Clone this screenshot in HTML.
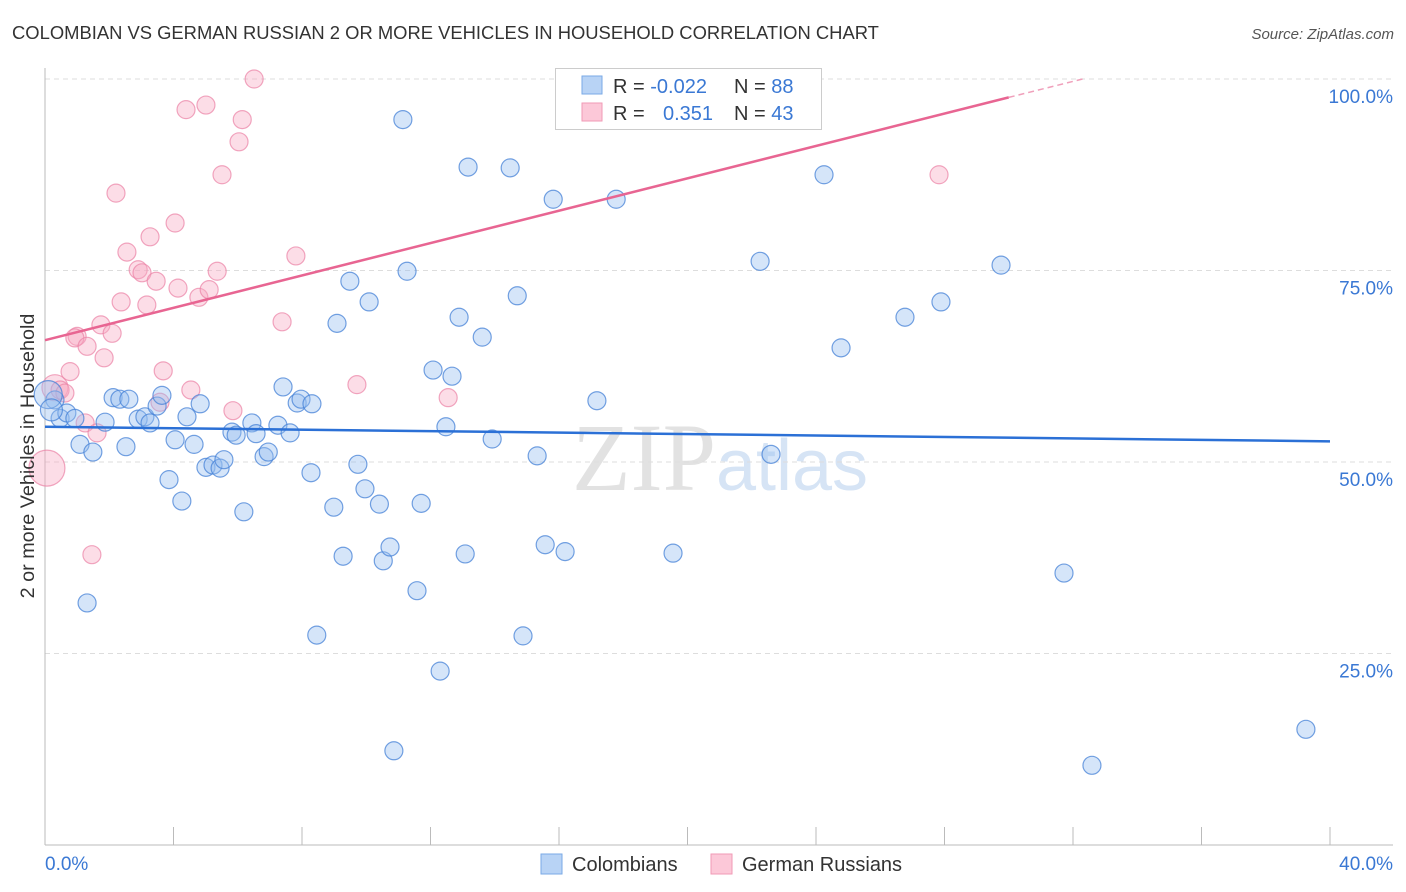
<!DOCTYPE html>
<html><head><meta charset="utf-8"><style>
body{margin:0;background:#fff;width:1406px;height:892px;overflow:hidden;font-family:"Liberation Sans",sans-serif}
svg{position:absolute;left:0;top:0}
</style></head><body>
<svg width="1406" height="892" xmlns="http://www.w3.org/2000/svg" id="chart">
<text x="12" y="39" font-size="18.4" fill="#333">COLOMBIAN VS GERMAN RUSSIAN 2 OR MORE VEHICLES IN HOUSEHOLD CORRELATION CHART</text>
<text x="1394" y="39" font-size="15" fill="#555" font-style="italic" text-anchor="end">Source: ZipAtlas.com</text>
<text x="720" y="490" font-size="96" fill="#e2e2e2" text-anchor="middle" font-family="Liberation Serif,serif">ZIP<tspan fill="#d6e4f5" font-family="Liberation Sans,sans-serif" font-size="72">atlas</tspan></text>
<g id="grid"></g><g id="axes"></g><g id="pts"></g><g id="lines"></g>
<text transform="translate(34,456) rotate(-90)" font-size="19.8" fill="#333" text-anchor="middle">2 or more Vehicles in Household</text>
<g>
<rect x="555.5" y="68.5" width="266" height="61" fill="#fff" stroke="#ccc"/>
<rect x="582" y="76" width="20" height="18" fill="#b8d3f5" stroke="#7aaae6"/>
<rect x="582" y="103" width="20" height="18" fill="#fcc8d8" stroke="#f09ab6"/>
<text x="613" y="93" font-size="20" fill="#333">R = <tspan fill="#3a78d4">-0.022</tspan></text>
<text x="734" y="93" font-size="20" fill="#333">N = <tspan fill="#3a78d4">88</tspan></text>
<text x="613" y="120" font-size="20" fill="#333">R = </text>
<text x="663" y="120" font-size="20" fill="#3a78d4">0.351</text>
<text x="734" y="120" font-size="20" fill="#333">N = <tspan fill="#3a78d4">43</tspan></text>
</g>
<g>
<rect x="541" y="854" width="21" height="20" fill="#b8d3f5" stroke="#7aaae6"/>
<text x="572" y="871" font-size="20" fill="#333">Colombians</text>
<rect x="711" y="854" width="21" height="20" fill="#fcc8d8" stroke="#f09ab6"/>
<text x="742" y="871" font-size="20" fill="#333">German Russians</text>
</g>
</svg>
<script>
const blueX=[0.31,0.47,0.68,0.93,1.09,1.31,1.49,1.87,2.12,2.33,2.52,2.61,2.90,3.11,3.27,3.49,3.64,3.86,4.05,4.26,4.42,4.64,4.83,5.01,5.23,5.45,5.57,5.82,5.95,6.19,6.44,6.57,6.82,6.95,7.25,7.41,7.63,7.85,7.97,8.28,8.31,8.46,8.99,9.09,9.28,9.49,9.74,9.96,10.09,10.41,10.53,10.74,10.86,11.14,11.27,11.58,11.71,12.08,12.30,12.48,12.67,12.89,13.08,13.17,13.61,13.92,14.48,14.70,14.88,15.32,15.57,15.82,16.19,17.18,17.78,19.55,22.26,22.60,24.25,24.78,26.77,27.89,29.76,31.72,32.59,39.25,0.1,0.2];
const blueY=[58.1,55.7,56.4,55.7,52.3,31.6,51.3,55.2,58.4,58.2,52.0,58.2,55.6,55.9,55.1,57.3,58.7,47.7,52.9,44.9,55.9,52.3,57.6,49.3,49.6,49.2,50.3,53.9,53.5,43.5,55.1,53.7,50.7,51.3,54.8,59.8,53.8,57.7,58.2,48.6,57.6,27.4,44.1,68.1,37.7,73.6,49.7,46.5,70.9,44.5,37.1,38.9,12.3,94.7,74.9,33.2,44.6,62.0,22.7,54.6,61.2,68.9,38.0,88.5,66.3,53.0,88.4,71.7,27.3,50.8,39.2,84.3,38.3,58.0,84.3,38.1,76.2,51.0,87.5,64.9,68.9,70.9,75.7,35.5,10.4,15.1,58.8,56.8];
const blueR=[9,9,9,9,9,9,9,9,9,9,9,9,9,9,9,9,9,9,9,9,9,9,9,9,9,9,9,9,9,9,9,9,9,9,9,9,9,9,9,9,9,9,9,9,9,9,9,9,9,9,9,9,9,9,9,9,9,9,9,9,9,9,9,9,9,9,9,9,9,9,9,9,9,9,9,9,9,9,9,9,9,9,9,9,9,9,14,11];
const pinkX=[0.06,0.31,0.47,0.62,0.78,1.00,0.93,1.25,1.31,1.46,1.62,1.74,1.84,2.09,2.21,2.37,2.55,2.90,3.02,3.17,3.27,3.46,3.58,3.68,4.05,4.14,4.39,4.54,4.79,5.01,5.11,5.36,5.51,5.85,6.04,6.14,6.51,7.38,7.81,9.71,12.55,27.83];
const pinkY=[49.2,59.7,59.4,59.0,61.8,66.4,66.2,55.1,65.1,37.9,53.8,67.9,63.6,66.8,85.1,70.9,77.4,75.1,74.7,70.5,79.4,73.6,57.8,61.9,81.2,72.7,96.0,59.4,71.5,96.6,72.5,74.9,87.5,56.7,91.8,94.7,100.0,68.3,76.9,60.1,58.4,87.5];
const pinkR=[18,13,9,9,9,9,9,9,9,9,9,9,9,9,9,9,9,9,9,9,9,9,9,9,9,9,9,9,9,9,9,9,9,9,9,9,9,9,9,9,9,9];
const yTicks=[25,50,75,100];
const yTickLabels=["25.0%","50.0%","75.0%","100.0%"];
const xTicks=[0,4,8,12,16,20,24,28,32,36,40];
const blueTrend=[[0,54.6],[40,52.7]];
const pinkTrend=[[0,65.9],[30,97.6],[32.3,100]];
const NS="http://www.w3.org/2000/svg";
const sx=v=>45+v/40*1285, sy=v=>845-v/100*766;
function mk(t,a,p){const e=document.createElementNS(NS,t);for(const k in a)e.setAttribute(k,a[k]);document.getElementById(p).appendChild(e);return e;}
yTicks.forEach((t,i)=>{
 const l=mk('line',{x1:45,x2:1393,y1:sy(t),y2:sy(t),stroke:'#ddd','stroke-dasharray':'5,4'},'grid');
 
 
 const tx=mk('text',{x:1393,y:sy(t)+24,'font-size':19,fill:'#3a78d4','text-anchor':'end'},'grid');
 tx.textContent=yTickLabels[i];
 
 
});
mk('line',{x1:45,x2:45,y1:68,y2:845,stroke:'#bbb'},'axes');
mk('line',{x1:45,x2:1393,y1:845,y2:845,stroke:'#bbb'},'axes');
xTicks.forEach(t=>{const l=mk('line',{x1:sx(t),x2:sx(t),y1:827,y2:845,stroke:'#bbb'},'axes');
 
 });
const x0=mk('text',{x:45,y:870,'font-size':19,fill:'#3a78d4'},'axes');x0.textContent='0.0%';


const x1=mk('text',{x:1393,y:870,'font-size':19,fill:'#3a78d4','text-anchor':'end'},'axes');x1.textContent='40.0%';


pinkX.forEach((v,i)=>{const c=mk('circle',{cx:sx(v),cy:sy(pinkY[i]),r:pinkR[i],fill:'rgba(248,170,195,0.4)',stroke:'rgba(235,130,165,0.7)','stroke-width':1.2},'pts');
 
 });
blueX.forEach((v,i)=>{const c=mk('circle',{cx:sx(v),cy:sy(blueY[i]),r:blueR[i],fill:'rgba(150,190,240,0.4)',stroke:'rgba(70,130,215,0.75)','stroke-width':1.2},'pts');
 
 });
const bl=mk('line',{x1:sx(blueTrend[0][0]),y1:sy(blueTrend[0][1]),x2:sx(blueTrend[1][0]),y2:sy(blueTrend[1][1]),stroke:'#2b70d6','stroke-width':2.5},'lines');


const pl=mk('line',{x1:sx(pinkTrend[0][0]),y1:sy(pinkTrend[0][1]),x2:sx(pinkTrend[1][0]),y2:sy(pinkTrend[1][1]),stroke:'#e86592','stroke-width':2.5},'lines');


const pd=mk('line',{x1:sx(pinkTrend[1][0]),y1:sy(pinkTrend[1][1]),x2:sx(pinkTrend[2][0]),y2:sy(pinkTrend[2][1]),stroke:'#f0a0bb','stroke-width':1.5,'stroke-dasharray':'6,4'},'lines');


</script>
</body></html>
